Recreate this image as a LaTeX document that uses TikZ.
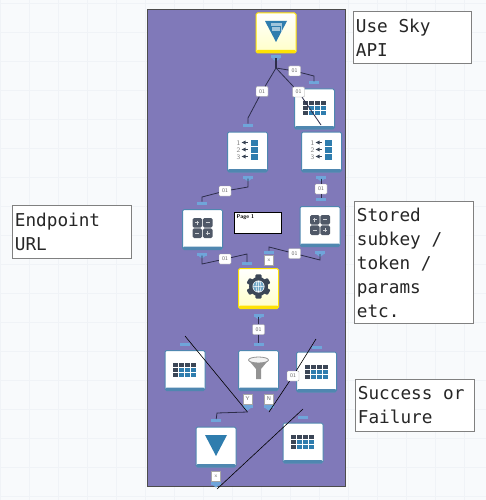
\documentclass[tikz,border=0pt]{standalone}
\usepackage{fontspec}
\newfontfamily\notefont{DejaVu Sans Mono}
\newcommand{\gap}{\hspace{10.7pt}}
\definecolor{panelpurple}{HTML}{8079B9}
\definecolor{paperbg}{HTML}{F8FAFC}
\definecolor{paperline}{HTML}{F0F3F7}
\definecolor{toolblue}{HTML}{4F87B0}
\definecolor{portblue}{HTML}{6FA5DA}
\definecolor{icondark}{HTML}{3B4656}
\definecolor{iconblue}{HTML}{2F7DAE}
\definecolor{wirecol}{HTML}{2D2D4A}
\tikzset{
  tool/.style={draw=toolblue,line width=1pt,fill=white,rounded corners=1.5pt,
    minimum width=40pt,minimum height=40pt,inner sep=0pt,
    path picture={\fill[toolblue] ([yshift=3pt]path picture bounding box.south west)
      rectangle (path picture bounding box.south east);}},
  gold/.style={draw=yellow!85!orange,top color=white,bottom color=yellow!22,
    path picture={\fill[yellow!85!orange] ([yshift=3pt]path picture bounding box.south west)
      rectangle (path picture bounding box.south east);}},
  port/.style={fill=portblue,minimum width=10pt,minimum height=3pt,inner sep=0pt,outer sep=0pt},
  tag/.style={draw=gray!70,fill=white,rounded corners=1pt,minimum width=12pt,minimum height=10pt,
    inner sep=0pt,text=gray!80!black,font=\sffamily\fontsize{5.5}{6}\selectfont},
  yntag/.style={tag,rounded corners=0pt,minimum width=9pt},
  wire/.style={wirecol,line width=.8pt},
  thinwire/.style={black,line width=.6pt},
  notebox/.style={draw=gray,fill=white,line width=.8pt,anchor=north west,inner xsep=2.5pt,inner ysep=0pt,
    align=left,text=black!85,font=\notefont\fontsize{17.7}{24}\selectfont},
  tableicon/.pic={
    \foreach \i in {0,1,2,3} \foreach \j in {0,1,2} {
      \ifnum\i=0 \fill[icondark] (-12+\i*6,-7+\j*5) rectangle ++(5,4);
      \else\ifnum\j=0 \fill[icondark] (-12+\i*6,-7+\j*5) rectangle ++(5,4);
      \else \fill[iconblue] (-12+\i*6,-7+\j*5) rectangle ++(5,4);
      \fi\fi}
  },
  listicon/.pic={
    \foreach \j in {1,2,3} {
      \node[text=gray,font=\sffamily\fontsize{7}{7}\selectfont,inner sep=0pt] (num\j) at (-9,-14+\j*7) {\j};
      \fill[icondark] (-6,-14.5+\j*7) -- (-2,-16.5+\j*7) -- (-2,-12.5+\j*7) -- cycle;
      \fill[icondark] (-3,-15.3+\j*7) rectangle (0,-13.7+\j*7);
      \fill[iconblue] (3,-17+\j*7) rectangle (10,-11+\j*7);
    }
  },
  calcicon/.pic={
    \foreach \i/\j in {-1/-1,1/-1,-1/1,1/1}
      \fill[icondark!90,rounded corners=1.5pt] (\i*5.2-4.8,\j*5.2-4.8) rectangle (\i*5.2+4.8,\j*5.2+4.8);
    \foreach \i/\j in {-1/-1,1/-1,-1/1,1/1}
      \draw[white!75!icondark,line width=.7pt] (\i*5.2-2,\j*5.2) -- (\i*5.2+2,\j*5.2);
    \draw[white!75!icondark,line width=.7pt] (-5.2,-7.2) -- (-5.2,-3.2) (5.2,3.2) -- (5.2,7.2);
  },
  gearicon/.pic={
    \foreach \a in {30,90,...,330}
      \fill[icondark,rounded corners=1pt] (\a-14:12.5) -- (\a+14:12.5) -- (\a+22:8) -- (\a-22:8) -- cycle;
    \fill[icondark] (0,0) circle (9.5);
    \fill[white] (0,0) circle (6);
    \fill[iconblue!70] (0,0) circle (5.5);
    \draw[white,line width=.5pt] (-5.5,0) -- (5.5,0) (0,-5.5) -- (0,5.5) (0,0) ellipse (2.6 and 5.5);
  },
  funnelicon/.pic={
    \fill[gray!85] (-10,-9) -- (10,-9) -- (2.5,0) -- (2.5,10) -- (-2.5,10) -- (-2.5,0) -- cycle;
    \draw[gray!85,fill=gray!10,line width=.8pt] (0,-9) ellipse (10 and 3);
  },
  vicon/.pic={
    \fill[iconblue] (-11,-10) -- (11,-10) -- (0,11) -- cycle;
  }
}
\begin{document}
\begin{tikzpicture}[x=1pt,y=-1pt]
  \useasboundingbox (0,0) rectangle (486,500);
  \fill[paperbg] (0,0) rectangle (486,500);
  \foreach \g in {0,29,...,486} \draw[paperline] (\g,0) -- (\g,500);
  \foreach \g in {3,32,...,500} \draw[paperline] (0,\g) -- (486,\g);
  \fill[panelpurple] (147.5,9) rectangle (345,486.5);
  \draw[gray!60!black,line width=.8pt] (147.5,9) rectangle (345,486.5);

  % tools
  \node[tool,gold] (usesky) at (276,33) {};
  \node[tool] (tblone) at (314.5,109) {};
  \node[tool] (listleft) at (247.5,152) {};
  \node[tool] (listright) at (321.5,152) {};
  \node[tool] (calcleft) at (202.5,229.5) {};
  \node[tool] (calcright) at (320,226.5) {};
  \node[tool,gold] (gear) at (258.5,288.5) {};
  \node[tool] (filter) at (258.5,370.5) {};
  \node[tool] (tblleft) at (185,370.5) {};
  \node[tool] (tblright) at (316.5,372) {};
  \node[tool] (tblbottom) at (303,443) {};
  \node[tool] (browse) at (216,447) {};
  \node[draw=black,fill=white,line width=.6pt,minimum width=47pt,minimum height=21pt,inner sep=0pt] (pagebox) at (258,223) {};
  \node[anchor=north west,inner sep=0pt,font=\sffamily\bfseries\fontsize{5.5}{6}\selectfont] (pagetxt) at (236.5,214.5) {Page 1};

  % icons
  \pic at (276,31) {vicon};
  \fill[iconblue!45!white] (270.5,23) rectangle (281.5,32);
  \draw[iconblue,line width=.4pt] (271.5,26) rectangle (280.5,31);
  \pic at (314.5,108) {tableicon};
  \pic (la) at (247.5,150) {listicon};
  \pic (lb) at (321.5,150) {listicon};
  \pic at (202.5,228) {calcicon};
  \pic at (320,225) {calcicon};
  \pic at (258.5,286.5) {gearicon};
  \pic at (258.5,369) {funnelicon};
  \pic at (185,369.5) {tableicon};
  \pic at (316.5,372) {tableicon};
  \pic at (303,442) {tableicon};
  \pic at (216,445) {vicon};

  % ports
  \node[port] (skyout) at (276,57) {};
  \node[port] (tbloneIn) at (314,83) {};
  \node[port] (listleftIn) at (248,125) {};
  \node[port] (listleftOut) at (248,177) {};
  \node[port] (listrightOut) at (321,177) {};
  \node[port] (calcleftIn) at (202,203) {};
  \node[port] (calcrightIn) at (321,199.5) {};
  \node[port] (calcleftOut) at (202,254) {};
  \node[port] (calcrightOut) at (320,252.5) {};
  \node[port] (gearInA) at (247,263.5) {};
  \node[port] (gearInB) at (269,252) {};
  \node[port] (gearOut) at (258.5,315) {};
  \node[port] (filterIn) at (258.5,344) {};
  \node[port] (tblleftIn) at (185,344) {};
  \node[port] (tblrightIn) at (317,347) {};
  \node[port] (tblbottomIn) at (303,417) {};
  \node[port] (browseIn) at (216,420.5) {};
  \node[port] (filterY) at (247.5,406) {};
  \node[port] (filterN) at (268.5,406) {};
  \node[port] (browseOut) at (216,483) {};
  \foreach \p in {skyout,listleftOut,listrightOut,calcleftOut,calcrightOut,gearOut,filterY,filterN,browseOut}
    \fill[portblue] ([xshift=-4pt]\p.south) -- ([xshift=4pt]\p.south) -- ([yshift=-3pt]\p.south) -- cycle;

  % tags
  \node[tag] (t1) at (294.5,71) {01};
  \node[tag] (t2) at (262,91.5) {01};
  \node[tag] (t3) at (298.5,92) {01};
  \node[tag] (t4) at (225,191) {01};
  \node[tag] (t5) at (321,189) {01};
  \node[tag] (t6) at (225,259) {01};
  \node[tag] (t7) at (294.5,253.5) {01};
  \node[yntag] (tx) at (269,260) {x};
  \node[tag] (t8) at (258.5,329.5) {01};
  \node[tag] (t9) at (293,376) {01};
  \node[yntag] (ty) at (247.5,399) {Y};
  \node[yntag] (tn) at (269,399) {N};
  \node[yntag] (tz) at (216,476) {x};

  % bends
  \coordinate (jct) at (276,68);
  \coordinate (b1) at (314,76);
  \coordinate (b2) at (248,118);
  \coordinate (b3) at (321,125);
  \coordinate (b4) at (248,187);
  \coordinate (b5) at (202,197);
  \coordinate (b6) at (202,264);
  \coordinate (b7) at (247,254);
  \coordinate (b8) at (320,260);
  \coordinate (b9) at (269,247);
  \coordinate (b10) at (185,336);
  \coordinate (b11) at (247.5,412);
  \coordinate (b12) at (217,413);
  \coordinate (b13) at (269,412);
  \coordinate (b14) at (316,339);
  \coordinate (b15) at (217,489);
  \coordinate (b16) at (303,409);

  % connectors
  \draw[wire,line width=1.4pt] (skyout) -- (jct);
  \draw[wire] (jct) -- (t1) -- (b1) -- (tbloneIn);
  \draw[wire] (jct) -- (t2) -- (b2) -- (listleftIn);
  \draw[wire] (jct) -- (t3) -- (b3);
  \draw[wire] (listleftOut) -- (b4) -- (t4) -- (b5) -- (calcleftIn);
  \draw[wire] (listrightOut) -- (t5) -- (calcrightIn);
  \draw[wire] (calcleftOut) -- (b6) -- (t6) -- (b7) -- (gearInA);
  \draw[wire] (calcrightOut) -- (b8) -- (t7) -- (b9) -- (gearInB);
  \draw[wire] (gearOut) -- (t8) -- (filterIn);
  \draw[thinwire] (b10) -- (b11);
  \draw[wire] (b11) -- (b12) -- (browseIn);
  \draw[thinwire] (b13) -- (t9) -- (b14);
  \draw[thinwire] (b15) -- (b16);

  % notes
  \node[notebox,minimum width=118pt,minimum height=52pt,text width=113pt] (skynote) at (353,11) {Use\gap Sky\\API};
  \node[notebox,minimum width=119pt,minimum height=53pt,text width=114pt] (urlnote) at (12,205) {Endpoint\\URL};
  \node[notebox,minimum width=119pt,minimum height=122pt,text width=114pt] (tokennote) at (354,201) {Stored\\subkey\gap /\\token\gap /\\params\\etc.};
  \node[notebox,minimum width=119pt,minimum height=52pt,text width=114pt] (resultnote) at (355,379) {Success\gap or\\Failure};
\end{tikzpicture}
\end{document}
